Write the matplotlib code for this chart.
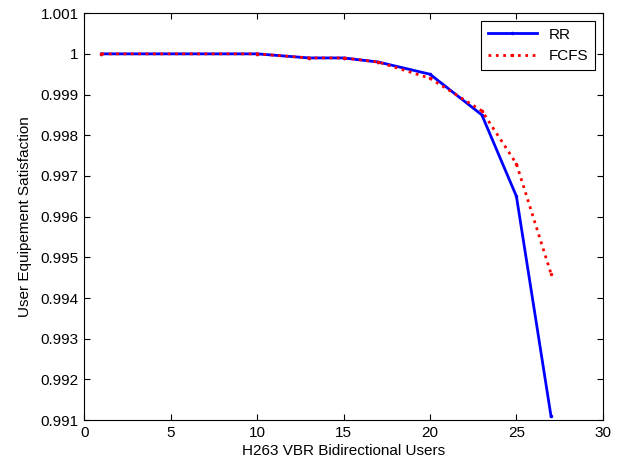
import matplotlib
matplotlib.use("Agg")
import matplotlib.pyplot as plt

plt.rcParams['font.family'] = ['Liberation Sans', 'DejaVu Sans']

users = [1, 10, 13, 15, 17, 20, 23, 25, 27]
rr = [1.0, 1.0, 0.9999, 0.9999, 0.9998, 0.9995, 0.9985, 0.9965, 0.9911]
fcfs = [1.0, 1.0, 0.9999, 0.9999, 0.9998, 0.9994, 0.9986, 0.9973, 0.9946]

fig = plt.figure(figsize=(6.28, 4.70), dpi=100)
ax = fig.add_axes([0.134, 0.106, 0.826, 0.866])

ax.plot(users, rr, color="blue", linewidth=2, marker=".", markersize=3, label="RR")
ax.plot(users, fcfs, color="red", linewidth=2, linestyle=":", marker=".", markersize=3, label="FCFS")

ax.set_xlim(0, 30)
ax.set_ylim(0.991, 1.001)
ax.set_xticks(range(0, 31, 5))
yt = [0.991 + 0.001 * i for i in range(11)]
ax.set_yticks(yt)
ax.set_yticklabels(["%g" % round(v, 3) for v in yt])
ax.tick_params(direction="in", top=True, right=True, labelsize=11, length=4, pad=4)
for s in ax.spines.values():
    s.set_linewidth(0.8)

ax.set_xlabel("H263 VBR Bidirectional Users", fontsize=11, labelpad=3)
ax.set_ylabel("User Equipement Satisfaction", fontsize=11, labelpad=6)

leg = ax.legend(loc="upper right", fontsize=11, fancybox=False, framealpha=1,
                edgecolor="black", handlelength=3.2, borderpad=0.45,
                labelspacing=0.5, borderaxespad=0.5)
leg.get_frame().set_linewidth(0.8)

fig.savefig("out.png", dpi=100)
